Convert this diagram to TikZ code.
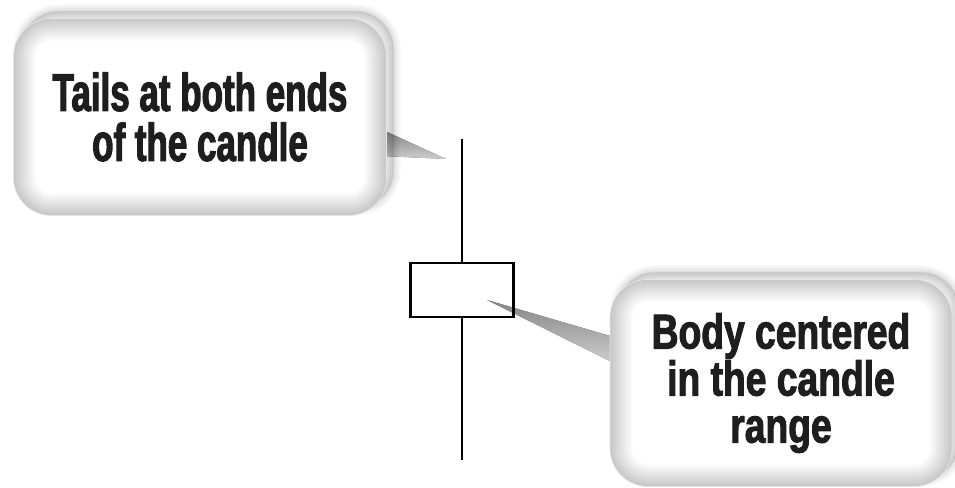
\documentclass[tikz,border=0pt]{standalone}
\usepackage{fontspec}
\usepackage{xcolor}
\usepackage{tikz}
\usetikzlibrary{backgrounds}
\newfontfamily\tipfontL[FakeStretch=0.66,FakeBold=2]{Liberation Sans}
\newfontfamily\tipfontR[FakeStretch=0.76,FakeBold=2]{Liberation Sans}
\definecolor{cTip}{RGB}{30,30,30}
\definecolor{cTail}{RGB}{150,150,150}

\begin{document}
\begin{tikzpicture}[x=1pt,y=1pt,
  bubble/.style={rounded corners=38pt, fill=white, draw=black!10, line width=0.6pt,
    align=center, text=cTip, inner sep=0pt,
    preaction={draw=black, line width=14pt, opacity=0.03, transform canvas={shift={(7pt,7pt)}}},
    preaction={draw=black, line width=10pt, opacity=0.03, transform canvas={shift={(7pt,7pt)}}},
    preaction={draw=black, line width=6pt, opacity=0.04, transform canvas={shift={(7pt,7pt)}}},
    preaction={draw=black, line width=2pt, opacity=0.05, transform canvas={shift={(7pt,7pt)}}},
    preaction={fill=black, opacity=0.10, transform canvas={shift={(7pt,7pt)}}},
    path picture={\foreach \w in {44,40,...,4}{
      \draw[black, opacity=0.018, line width=\w pt, rounded corners=38pt]
        (path picture bounding box.south west) rectangle (path picture bounding box.north east);}}},
  tipsL/.style={font=\tipfontL\bfseries\fontsize{53}{50}\selectfont},
  tipsR/.style={font=\tipfontR\bfseries\fontsize{49}{47}\selectfont},
  tail/.style={top color=cTail, bottom color=black!8, opacity=0.85},
  candlebody/.style={draw=black, line width=2.6pt, minimum width=103pt, minimum height=54pt, inner sep=0pt},
  wick/.style={line width=2.6pt}]
\useasboundingbox (0,0) rectangle (955,487);

% candle
\node[candlebody] (body) at (462,197) {};
\coordinate (wicktop) at (462,348);
\coordinate (wickbot) at (462,27);
\draw[wick] (wicktop) -- (body.north);
\draw[wick] (body.south) -- (wickbot);

% callouts
\node[bubble, tipsL, minimum width=373pt, minimum height=197pt] (tails) at (200,370)
  {Tails at both ends\\of the candle};
\node[bubble, tipsR, minimum width=342pt, minimum height=207pt] (centre) at (781,104)
  {Body centered\\in the candle\\range};

% pointers
\coordinate (tailstip) at (446,328);
\coordinate (centretip) at (487,187);
\begin{pgfonlayer}{background}
\fill[tail] ([xshift=-4pt,yshift=-13pt]tails.east) -- (tailstip) -- ([xshift=-4pt,yshift=-39pt]tails.east) -- cycle;
\fill[tail] ([xshift=4pt,yshift=46pt]centre.west) -- (centretip) -- ([xshift=4pt,yshift=20pt]centre.west) -- cycle;
\end{pgfonlayer}
\end{tikzpicture}
\end{document}
